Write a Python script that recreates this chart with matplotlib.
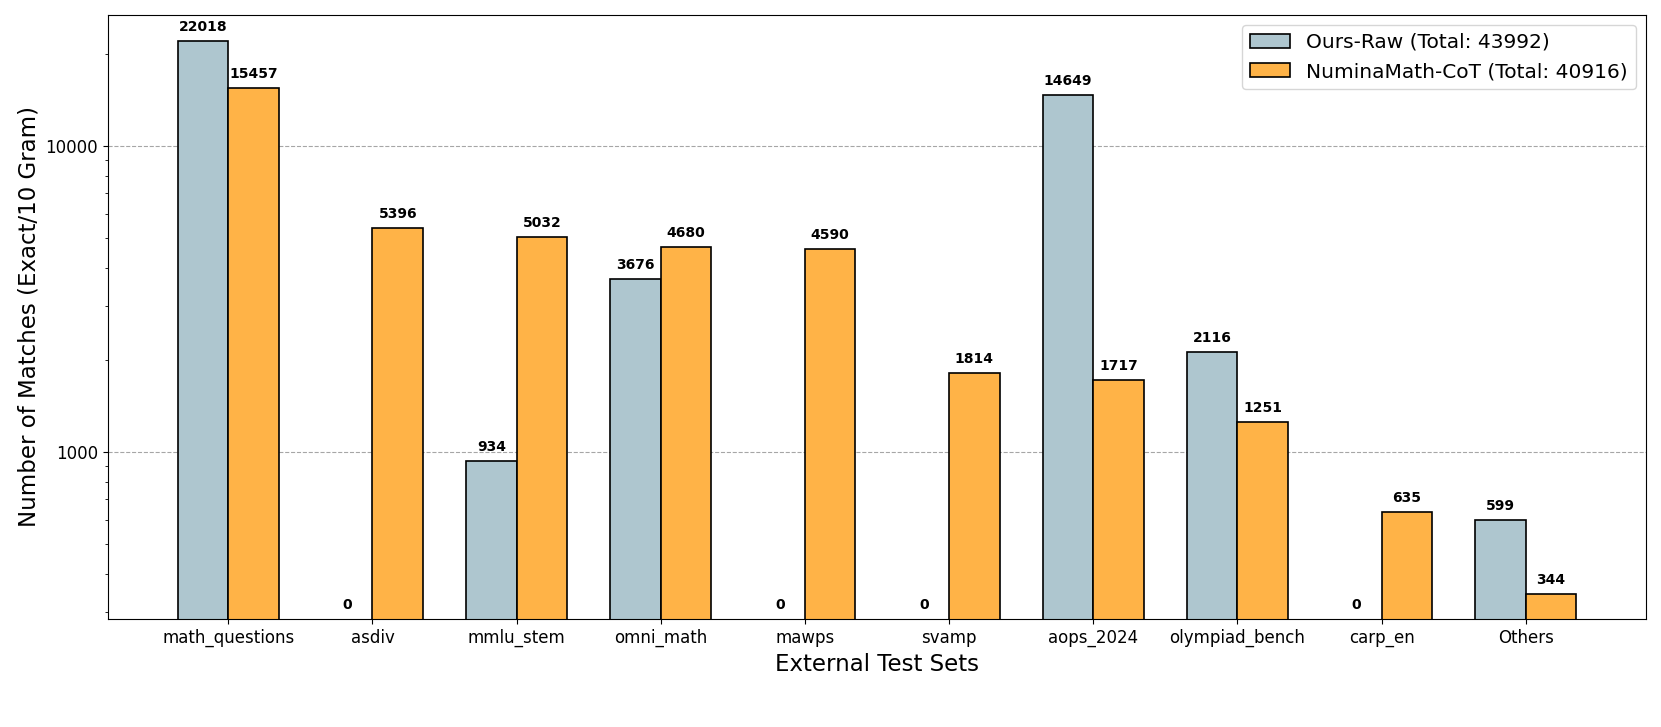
import matplotlib.pyplot as plt
import numpy as np
from matplotlib.ticker import FuncFormatter, NullFormatter

datasets = ["math_questions", "asdiv", "mmlu_stem", "omni_math", "mawps",
            "svamp", "aops_2024", "olympiad_bench", "carp_en", "Others"]
ours_raw = [22018, 0, 934, 3676, 0, 0, 14649, 2116, 0, 599]
numina_cot = [15457, 5396, 5032, 4680, 4590, 1814, 1717, 1251, 635, 344]

x = np.arange(len(datasets))
width = 0.35

fig = plt.figure(figsize=(16.61, 7.27), dpi=100)
ax = fig.add_axes([0.065, 0.1486, 0.926, 0.831])

b1 = ax.bar(x - width / 2, ours_raw, width, color="#AEC6CF", edgecolor="black",
            linewidth=1.2, label=f"Ours-Raw (Total: {sum(ours_raw)})")
b2 = ax.bar(x + width / 2, numina_cot, width, color="#FFB347", edgecolor="black",
            linewidth=1.2, label=f"NuminaMath-CoT (Total: {sum(numina_cot)})")

ax.set_yscale("log")
ax.set_ylim(284.5, 26800)

for bars, vals in [(b1, ours_raw), (b2, numina_cot)]:
    for bar, v in zip(bars, vals):
        cx = bar.get_x() + bar.get_width() / 2
        y = v if v > 0 else 284.5
        ax.annotate(str(v), (cx, y), xytext=(0, 5), textcoords="offset points",
                    ha="center", va="bottom", fontsize=10, fontweight="bold")

ax.yaxis.set_major_formatter(FuncFormatter(lambda v, p: f"{int(v)}"))
ax.yaxis.set_minor_formatter(NullFormatter())
ax.tick_params(axis="both", labelsize=12)
ax.grid(axis="y", which="major", linestyle="--", color="gray", alpha=0.7)
ax.set_axisbelow(True)

ax.set_xticks(x)
ax.set_xticklabels(datasets)
ax.set_xlabel("External Test Sets", fontsize=16.5)
ax.set_ylabel("Number of Matches (Exact/10 Gram)", fontsize=16.5)
ax.legend(fontsize=14.5, loc="upper right")

plt.savefig("out.png")
